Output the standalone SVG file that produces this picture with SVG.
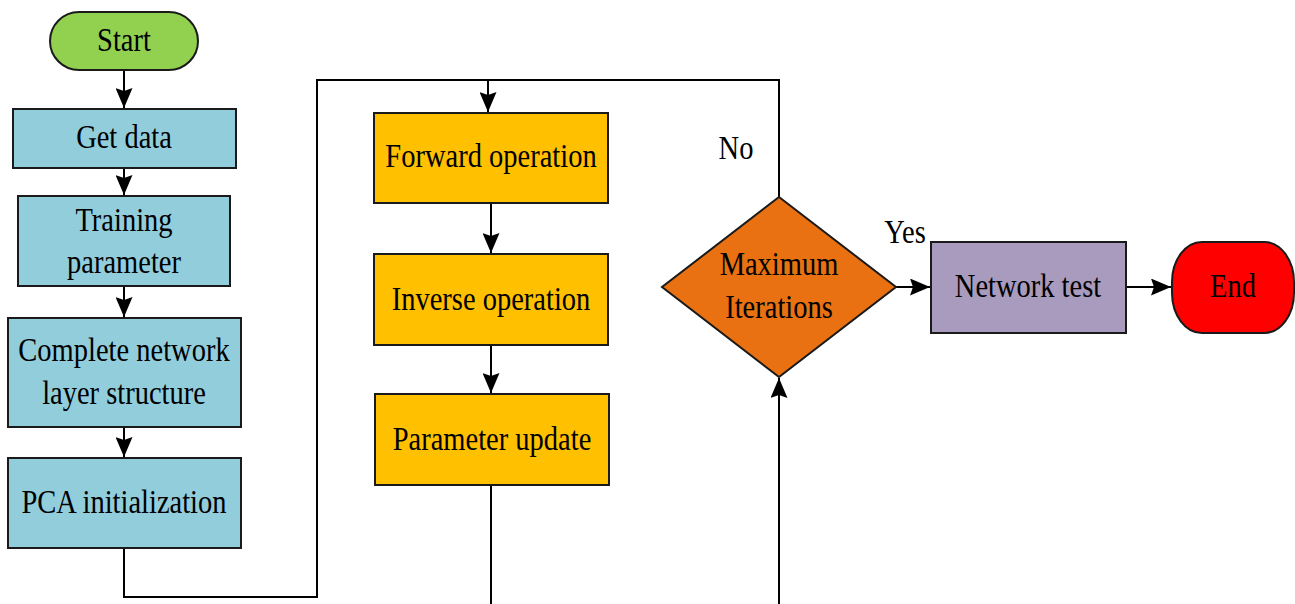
<svg xmlns="http://www.w3.org/2000/svg" width="1295" height="604" viewBox="0 0 1295 604">
<style>
.t{font-size:28.5px;fill:#000;text-anchor:middle}
.n{stroke:#1a1a1a;stroke-width:2}
.c{fill:none;stroke:#000;stroke-width:2}
</style>
<defs>
<marker id="ah" viewBox="0 0 20 17" refX="20" refY="8.5" markerWidth="20" markerHeight="17" markerUnits="userSpaceOnUse" orient="auto">
<path d="M0,0 L20,8.5 L0,17 L3,8.5 Z" fill="#000"/>
</marker>
</defs>
<rect width="1295" height="604" fill="#fff"/>
<g font-family="Liberation Serif, Tinos, Times New Roman, DejaVu Serif, serif">
<g id="connectors">
<path class="c" d="M124,70 V108" marker-end="url(#ah)"/>
<path class="c" d="M124,168 V195" marker-end="url(#ah)"/>
<path class="c" d="M124,286 V317" marker-end="url(#ah)"/>
<path class="c" d="M124,427 V457" marker-end="url(#ah)"/>
<path class="c" d="M124,548 V597 H317 V80 H779 V197"/>
<path class="c" d="M488,80 V112" marker-end="url(#ah)"/>
<path class="c" d="M491,203 V253" marker-end="url(#ah)"/>
<path class="c" d="M491,345 V393" marker-end="url(#ah)"/>
<path class="c" d="M491,485 V604"/>
<path class="c" d="M779,604 V378" marker-end="url(#ah)"/>
<path class="c" d="M896,287 H930" marker-end="url(#ah)"/>
<path class="c" d="M1126,287 H1171" marker-end="url(#ah)"/>
<text class="t" transform="translate(736,159) scale(1,1.15)">No</text>
<text class="t" transform="translate(905,243) scale(1,1.15)">Yes</text>
</g>
<g id="start">
<rect class="n" x="50" y="12" width="148" height="58" rx="29" ry="29" fill="#92D050"/>
<text class="t" transform="translate(124,51) scale(1,1.15)">Start</text>
</g>
<g id="get-data">
<rect class="n" x="13" y="109" width="223" height="59" fill="#92CDDC"/>
<text class="t" transform="translate(124,148) scale(1,1.15)">Get data</text>
</g>
<g id="training-parameter">
<rect class="n" x="18" y="196" width="212" height="90" fill="#92CDDC"/>
<text class="t" transform="translate(124,231) scale(1,1.15)">Training</text>
<text class="t" transform="translate(124,273) scale(1,1.15)">parameter</text>
</g>
<g id="complete-network">
<rect class="n" x="8" y="318" width="233" height="109" fill="#92CDDC"/>
<text class="t" transform="translate(124,361) scale(1,1.15)">Complete network</text>
<text class="t" transform="translate(124,404) scale(1,1.15)">layer structure</text>
</g>
<g id="pca-init">
<rect class="n" x="8" y="458" width="233" height="90" fill="#92CDDC"/>
<text class="t" transform="translate(124,513) scale(1,1.15)">PCA initialization</text>
</g>
<g id="forward-operation">
<rect class="n" x="374" y="113" width="234" height="90" fill="#FFC000"/>
<text class="t" transform="translate(491,167) scale(1,1.15)">Forward operation</text>
</g>
<g id="inverse-operation">
<rect class="n" x="374" y="254" width="234" height="91" fill="#FFC000"/>
<text class="t" transform="translate(491,310) scale(1,1.15)">Inverse operation</text>
</g>
<g id="parameter-update">
<rect class="n" x="375" y="394" width="234" height="91" fill="#FFC000"/>
<text class="t" transform="translate(492,450) scale(1,1.15)">Parameter update</text>
</g>
<g id="maximum-iterations">
<polygon class="n" points="779,197 896,287 779,377 662,287" fill="#E97112"/>
<text class="t" transform="translate(779,275) scale(1,1.15)">Maximum</text>
<text class="t" transform="translate(779,318) scale(1,1.15)">Iterations</text>
</g>
<g id="network-test">
<rect class="n" x="931" y="242" width="195" height="91" fill="#A99BBE"/>
<text class="t" transform="translate(1028,297) scale(1,1.15)">Network test</text>
</g>
<g id="end">
<rect class="n" x="1172" y="242" width="122" height="91" rx="30" ry="40" fill="#FF0000"/>
<text class="t" transform="translate(1233,297) scale(1,1.15)">End</text>
</g>
</g>
</svg>
